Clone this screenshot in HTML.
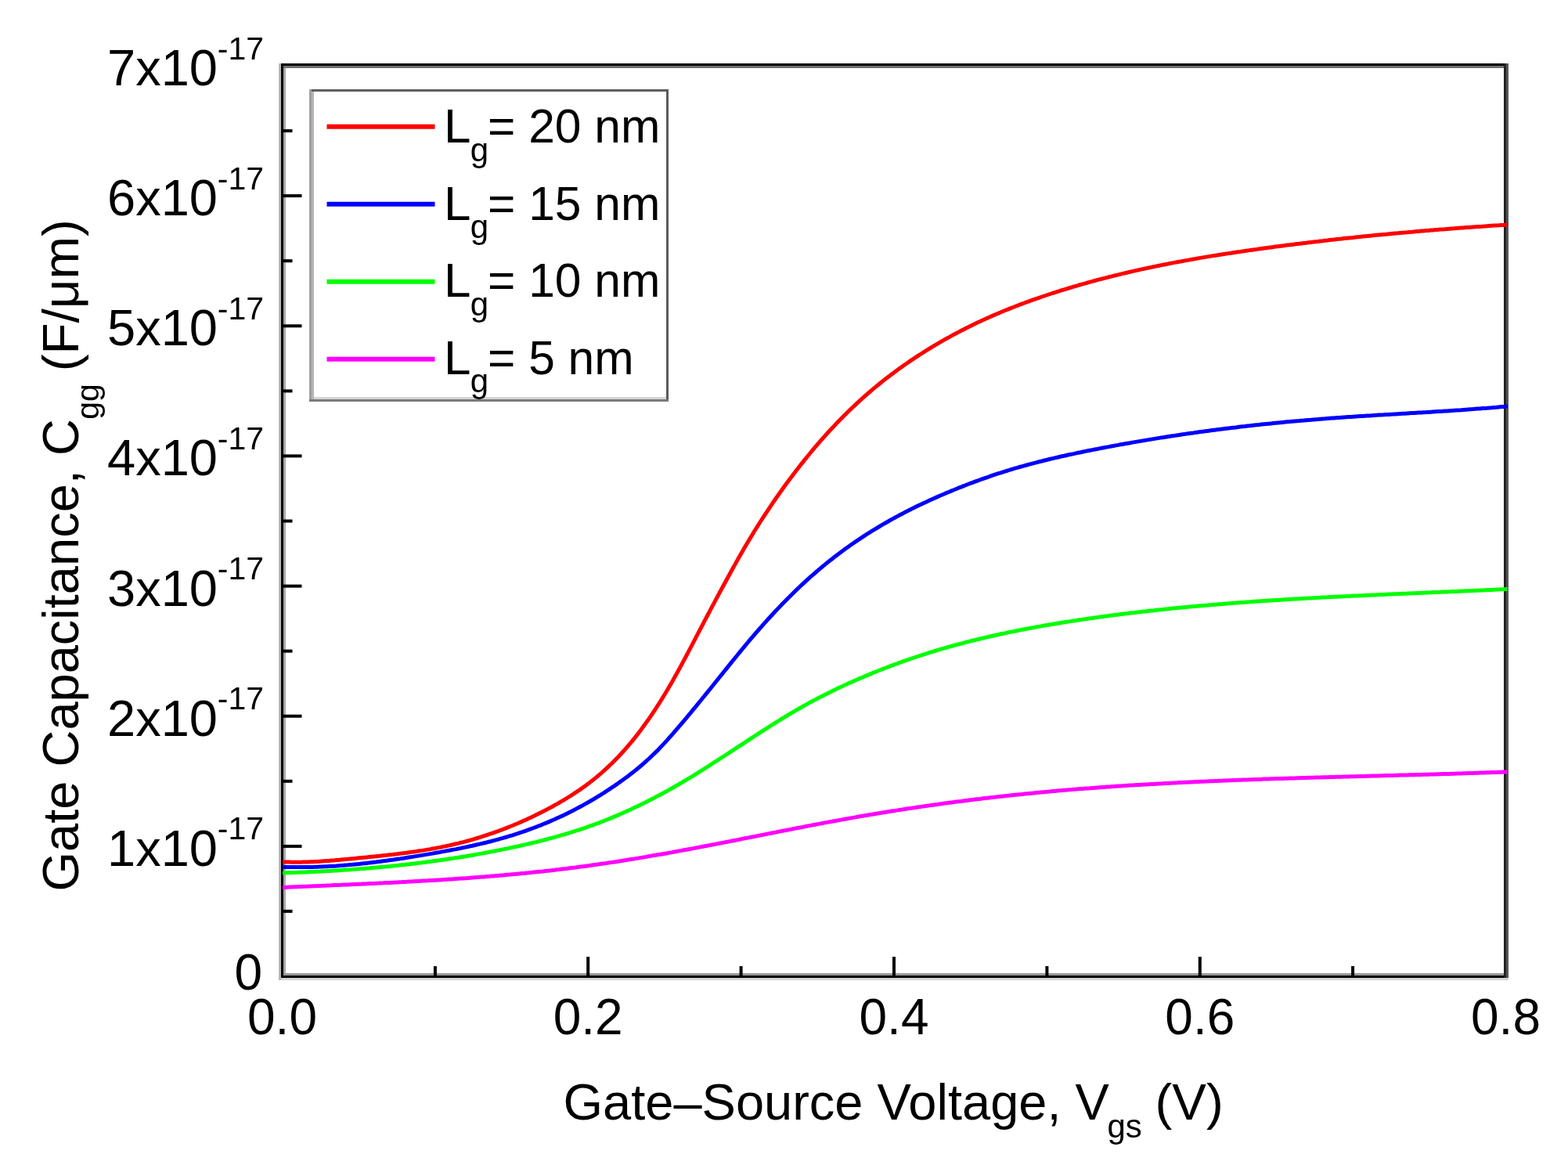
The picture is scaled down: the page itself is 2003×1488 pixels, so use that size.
<!DOCTYPE html>
<html><head><meta charset="utf-8"><title>Gate Capacitance vs Gate-Source Voltage</title>
<style>
html,body{margin:0;padding:0;background:#fff;}
body{width:2003px;height:1488px;overflow:hidden;}
svg{display:block;}
text{font-family:'Liberation Sans', Arial, Helvetica, sans-serif;fill:#000;}
</style></head><body>
<svg width="2003" height="1488" viewBox="0 0 2003 1488">
<rect x="0" y="0" width="2003" height="1488" fill="#fff"/>

<g shape-rendering="crispEdges">
<rect x="356" y="81" width="1571" height="3" fill="#000"/>
<rect x="362" y="84" width="1559" height="3" fill="#707070"/>
<rect x="356" y="81" width="3" height="1171" fill="#b8b8b8"/>
<rect x="359" y="81" width="3" height="1168" fill="#000"/>
<rect x="362" y="87" width="3" height="1156" fill="#a8a8a8"/>
<rect x="362" y="1243" width="1559" height="3" fill="#999"/>
<rect x="359" y="1246" width="1568" height="3" fill="#000"/>
<rect x="359" y="1249" width="1568" height="3" fill="#d4d4d4"/>
<rect x="1921" y="81" width="3" height="1168" fill="#222"/>
<rect x="1924" y="81" width="3" height="1168" fill="#555"/>
</g>
<defs><clipPath id="pa"><rect x="361" y="85" width="1566" height="1161"/></clipPath></defs>
<g clip-path="url(#pa)" fill="none" stroke-width="5.0" stroke-linejoin="round" stroke-linecap="butt">
<path stroke="#ff0000" d="M360.5 1100.7 L363.5 1100.9 L366.5 1101.0 L369.5 1101.1 L372.5 1101.2 L375.5 1101.2 L378.5 1101.2 L381.5 1101.2 L384.5 1101.2 L387.5 1101.1 L390.5 1101.1 L393.5 1101.0 L396.5 1100.8 L399.5 1100.7 L402.5 1100.6 L405.5 1100.4 L408.5 1100.2 L411.5 1100.0 L414.5 1099.8 L417.5 1099.6 L420.5 1099.4 L423.5 1099.1 L426.5 1098.9 L429.5 1098.6 L432.5 1098.4 L435.5 1098.1 L438.5 1097.8 L441.5 1097.5 L444.5 1097.3 L447.5 1097.0 L450.5 1096.7 L453.5 1096.4 L456.5 1096.1 L459.5 1095.8 L462.5 1095.5 L465.5 1095.2 L468.5 1094.9 L471.5 1094.6 L474.5 1094.3 L477.5 1094.0 L480.5 1093.7 L483.5 1093.4 L486.5 1093.1 L489.5 1092.7 L492.5 1092.4 L495.5 1092.1 L498.5 1091.7 L501.5 1091.4 L504.5 1091.0 L507.5 1090.7 L510.5 1090.3 L513.5 1089.9 L516.5 1089.5 L519.5 1089.2 L522.5 1088.7 L525.5 1088.3 L528.5 1087.9 L531.5 1087.5 L534.5 1087.0 L537.5 1086.6 L540.5 1086.1 L543.5 1085.6 L546.5 1085.1 L549.5 1084.6 L552.5 1084.0 L555.5 1083.5 L558.5 1082.9 L561.5 1082.4 L564.5 1081.8 L567.5 1081.1 L570.5 1080.5 L573.5 1079.9 L576.5 1079.2 L579.5 1078.5 L582.5 1077.8 L585.5 1077.1 L588.5 1076.3 L591.5 1075.6 L594.5 1074.8 L597.5 1074.0 L600.5 1073.2 L603.5 1072.3 L606.5 1071.4 L609.5 1070.5 L612.5 1069.6 L615.5 1068.7 L618.5 1067.7 L621.5 1066.7 L624.5 1065.7 L627.5 1064.7 L630.5 1063.7 L633.5 1062.6 L636.5 1061.5 L639.5 1060.4 L642.5 1059.3 L645.5 1058.1 L648.5 1056.9 L651.5 1055.7 L654.5 1054.5 L657.5 1053.2 L660.5 1052.0 L663.5 1050.7 L666.5 1049.4 L669.5 1048.0 L672.5 1046.7 L675.5 1045.3 L678.5 1043.9 L681.5 1042.5 L684.5 1041.0 L687.5 1039.5 L690.5 1038.0 L693.5 1036.5 L696.5 1035.0 L699.5 1033.4 L702.5 1031.8 L705.5 1030.2 L708.5 1028.5 L711.5 1026.9 L714.5 1025.2 L717.5 1023.4 L720.5 1021.7 L723.5 1019.9 L726.5 1018.0 L729.5 1016.1 L732.5 1014.2 L735.5 1012.2 L738.5 1010.2 L741.5 1008.1 L744.5 1006.0 L747.5 1003.9 L750.5 1001.6 L753.5 999.4 L756.5 997.0 L759.5 994.6 L762.5 992.2 L765.5 989.6 L768.5 987.1 L771.5 984.4 L774.5 981.7 L777.5 978.9 L780.5 976.0 L783.5 973.1 L786.5 970.0 L789.5 966.9 L792.5 963.8 L795.5 960.5 L798.5 957.2 L801.5 953.7 L804.5 950.2 L807.5 946.6 L810.5 942.9 L813.5 939.1 L816.5 935.2 L819.5 931.2 L822.5 927.1 L825.5 922.9 L828.5 918.7 L831.5 914.3 L834.5 909.9 L837.5 905.3 L840.5 900.7 L843.5 896.0 L846.5 891.1 L849.5 886.2 L852.5 881.2 L855.5 876.1 L858.5 870.9 L861.5 865.6 L864.5 860.2 L867.5 854.7 L870.5 849.2 L873.5 843.6 L876.5 838.0 L879.5 832.3 L882.5 826.6 L885.5 820.9 L888.5 815.2 L891.5 809.4 L894.5 803.7 L897.5 798.0 L900.5 792.2 L903.5 786.5 L906.5 780.9 L909.5 775.2 L912.5 769.6 L915.5 763.9 L918.5 758.4 L921.5 752.8 L924.5 747.2 L927.5 741.7 L930.5 736.2 L933.5 730.7 L936.5 725.3 L939.5 719.9 L942.5 714.5 L945.5 709.2 L948.5 704.0 L951.5 698.8 L954.5 693.7 L957.5 688.7 L960.5 683.7 L963.5 678.8 L966.5 674.0 L969.5 669.2 L972.5 664.5 L975.5 659.9 L978.5 655.3 L981.5 650.8 L984.5 646.3 L987.5 641.9 L990.5 637.5 L993.5 633.2 L996.5 629.0 L999.5 624.7 L1002.5 620.6 L1005.5 616.5 L1008.5 612.4 L1011.5 608.4 L1014.5 604.5 L1017.5 600.6 L1020.5 596.7 L1023.5 592.9 L1026.5 589.1 L1029.5 585.4 L1032.5 581.7 L1035.5 578.0 L1038.5 574.4 L1041.5 570.9 L1044.5 567.4 L1047.5 563.9 L1050.5 560.5 L1053.5 557.1 L1056.5 553.8 L1059.5 550.5 L1062.5 547.3 L1065.5 544.1 L1068.5 540.9 L1071.5 537.8 L1074.5 534.7 L1077.5 531.7 L1080.5 528.7 L1083.5 525.8 L1086.5 522.9 L1089.5 520.0 L1092.5 517.2 L1095.5 514.4 L1098.5 511.6 L1101.5 508.9 L1104.5 506.2 L1107.5 503.6 L1110.5 501.0 L1113.5 498.4 L1116.5 495.9 L1119.5 493.4 L1122.5 491.0 L1125.5 488.5 L1128.5 486.1 L1131.5 483.8 L1134.5 481.5 L1137.5 479.2 L1140.5 476.9 L1143.5 474.7 L1146.5 472.5 L1149.5 470.3 L1152.5 468.2 L1155.5 466.0 L1158.5 464.0 L1161.5 461.9 L1164.5 459.9 L1167.5 457.9 L1170.5 455.9 L1173.5 453.9 L1176.5 452.0 L1179.5 450.1 L1182.5 448.2 L1185.5 446.3 L1188.5 444.5 L1191.5 442.7 L1194.5 440.9 L1197.5 439.1 L1200.5 437.3 L1203.5 435.6 L1206.5 433.9 L1209.5 432.2 L1212.5 430.6 L1215.5 428.9 L1218.5 427.3 L1221.5 425.7 L1224.5 424.1 L1227.5 422.5 L1230.5 421.0 L1233.5 419.5 L1236.5 418.0 L1239.5 416.5 L1242.5 415.0 L1245.5 413.6 L1248.5 412.1 L1251.5 410.7 L1254.5 409.3 L1257.5 408.0 L1260.5 406.6 L1263.5 405.3 L1266.5 403.9 L1269.5 402.6 L1272.5 401.3 L1275.5 400.1 L1278.5 398.8 L1281.5 397.5 L1284.5 396.3 L1287.5 395.1 L1290.5 393.9 L1293.5 392.7 L1296.5 391.5 L1299.5 390.4 L1302.5 389.2 L1305.5 388.1 L1308.5 387.0 L1311.5 385.9 L1314.5 384.8 L1317.5 383.7 L1320.5 382.6 L1323.5 381.6 L1326.5 380.6 L1329.5 379.5 L1332.5 378.5 L1335.5 377.5 L1338.5 376.5 L1341.5 375.5 L1344.5 374.5 L1347.5 373.6 L1350.5 372.6 L1353.5 371.7 L1356.5 370.7 L1359.5 369.8 L1362.5 368.9 L1365.5 368.0 L1368.5 367.1 L1371.5 366.2 L1374.5 365.3 L1377.5 364.4 L1380.5 363.5 L1383.5 362.7 L1386.5 361.8 L1389.5 361.0 L1392.5 360.2 L1395.5 359.4 L1398.5 358.5 L1401.5 357.7 L1404.5 356.9 L1407.5 356.2 L1410.5 355.4 L1413.5 354.6 L1416.5 353.8 L1419.5 353.1 L1422.5 352.3 L1425.5 351.6 L1428.5 350.9 L1431.5 350.1 L1434.5 349.4 L1437.5 348.7 L1440.5 348.0 L1443.5 347.3 L1446.5 346.6 L1449.5 345.9 L1452.5 345.3 L1455.5 344.6 L1458.5 343.9 L1461.5 343.3 L1464.5 342.6 L1467.5 342.0 L1470.5 341.4 L1473.5 340.7 L1476.5 340.1 L1479.5 339.5 L1482.5 338.9 L1485.5 338.3 L1488.5 337.7 L1491.5 337.1 L1494.5 336.5 L1497.5 335.9 L1500.5 335.4 L1503.5 334.8 L1506.5 334.2 L1509.5 333.7 L1512.5 333.1 L1515.5 332.6 L1518.5 332.1 L1521.5 331.5 L1524.5 331.0 L1527.5 330.5 L1530.5 329.9 L1533.5 329.4 L1536.5 328.9 L1539.5 328.4 L1542.5 327.9 L1545.5 327.4 L1548.5 326.9 L1551.5 326.4 L1554.5 326.0 L1557.5 325.5 L1560.5 325.0 L1563.5 324.5 L1566.5 324.1 L1569.5 323.6 L1572.5 323.2 L1575.5 322.7 L1578.5 322.3 L1581.5 321.8 L1584.5 321.4 L1587.5 320.9 L1590.5 320.5 L1593.5 320.1 L1596.5 319.6 L1599.5 319.2 L1602.5 318.8 L1605.5 318.4 L1608.5 317.9 L1611.5 317.5 L1614.5 317.1 L1617.5 316.7 L1620.5 316.3 L1623.5 315.9 L1626.5 315.5 L1629.5 315.1 L1632.5 314.7 L1635.5 314.3 L1638.5 313.9 L1641.5 313.5 L1644.5 313.1 L1647.5 312.8 L1650.5 312.4 L1653.5 312.0 L1656.5 311.6 L1659.5 311.3 L1662.5 310.9 L1665.5 310.5 L1668.5 310.2 L1671.5 309.8 L1674.5 309.4 L1677.5 309.1 L1680.5 308.7 L1683.5 308.4 L1686.5 308.0 L1689.5 307.7 L1692.5 307.3 L1695.5 307.0 L1698.5 306.6 L1701.5 306.3 L1704.5 306.0 L1707.5 305.6 L1710.5 305.3 L1713.5 305.0 L1716.5 304.6 L1719.5 304.3 L1722.5 304.0 L1725.5 303.7 L1728.5 303.4 L1731.5 303.0 L1734.5 302.7 L1737.5 302.4 L1740.5 302.1 L1743.5 301.8 L1746.5 301.5 L1749.5 301.2 L1752.5 300.9 L1755.5 300.6 L1758.5 300.3 L1761.5 300.0 L1764.5 299.7 L1767.5 299.4 L1770.5 299.2 L1773.5 298.9 L1776.5 298.6 L1779.5 298.3 L1782.5 298.0 L1785.5 297.8 L1788.5 297.5 L1791.5 297.2 L1794.5 296.9 L1797.5 296.7 L1800.5 296.4 L1803.5 296.2 L1806.5 295.9 L1809.5 295.6 L1812.5 295.4 L1815.5 295.1 L1818.5 294.9 L1821.5 294.6 L1824.5 294.4 L1827.5 294.1 L1830.5 293.9 L1833.5 293.6 L1836.5 293.4 L1839.5 293.1 L1842.5 292.9 L1845.5 292.7 L1848.5 292.4 L1851.5 292.2 L1854.5 292.0 L1857.5 291.8 L1860.5 291.5 L1863.5 291.3 L1866.5 291.1 L1869.5 290.9 L1872.5 290.6 L1875.5 290.4 L1878.5 290.2 L1881.5 290.0 L1884.5 289.8 L1887.5 289.6 L1890.5 289.4 L1893.5 289.2 L1896.5 288.9 L1899.5 288.7 L1902.5 288.5 L1905.5 288.3 L1908.5 288.1 L1911.5 287.9 L1914.5 287.8 L1917.5 287.6 L1920.5 287.4 L1923.5 287.2 L1926.0 287.0"/>
<path stroke="#0000ff" d="M360.5 1107.3 L363.5 1107.4 L366.5 1107.4 L369.5 1107.5 L372.5 1107.6 L375.5 1107.6 L378.5 1107.6 L381.5 1107.6 L384.5 1107.6 L387.5 1107.6 L390.5 1107.6 L393.5 1107.5 L396.5 1107.5 L399.5 1107.4 L402.5 1107.3 L405.5 1107.2 L408.5 1107.1 L411.5 1107.0 L414.5 1106.8 L417.5 1106.7 L420.5 1106.5 L423.5 1106.3 L426.5 1106.2 L429.5 1106.0 L432.5 1105.7 L435.5 1105.5 L438.5 1105.3 L441.5 1105.0 L444.5 1104.8 L447.5 1104.5 L450.5 1104.3 L453.5 1104.0 L456.5 1103.7 L459.5 1103.4 L462.5 1103.1 L465.5 1102.7 L468.5 1102.4 L471.5 1102.1 L474.5 1101.7 L477.5 1101.3 L480.5 1101.0 L483.5 1100.6 L486.5 1100.2 L489.5 1099.8 L492.5 1099.4 L495.5 1099.0 L498.5 1098.6 L501.5 1098.2 L504.5 1097.7 L507.5 1097.3 L510.5 1096.9 L513.5 1096.4 L516.5 1096.0 L519.5 1095.5 L522.5 1095.0 L525.5 1094.6 L528.5 1094.1 L531.5 1093.6 L534.5 1093.1 L537.5 1092.6 L540.5 1092.1 L543.5 1091.6 L546.5 1091.1 L549.5 1090.6 L552.5 1090.1 L555.5 1089.5 L558.5 1089.0 L561.5 1088.5 L564.5 1087.9 L567.5 1087.4 L570.5 1086.8 L573.5 1086.3 L576.5 1085.7 L579.5 1085.1 L582.5 1084.6 L585.5 1084.0 L588.5 1083.4 L591.5 1082.7 L594.5 1082.1 L597.5 1081.5 L600.5 1080.8 L603.5 1080.2 L606.5 1079.5 L609.5 1078.8 L612.5 1078.1 L615.5 1077.4 L618.5 1076.7 L621.5 1076.0 L624.5 1075.2 L627.5 1074.5 L630.5 1073.7 L633.5 1072.9 L636.5 1072.1 L639.5 1071.2 L642.5 1070.4 L645.5 1069.5 L648.5 1068.6 L651.5 1067.7 L654.5 1066.8 L657.5 1065.8 L660.5 1064.9 L663.5 1063.9 L666.5 1062.9 L669.5 1061.9 L672.5 1060.8 L675.5 1059.7 L678.5 1058.6 L681.5 1057.5 L684.5 1056.4 L687.5 1055.2 L690.5 1054.1 L693.5 1052.8 L696.5 1051.6 L699.5 1050.4 L702.5 1049.1 L705.5 1047.8 L708.5 1046.5 L711.5 1045.1 L714.5 1043.7 L717.5 1042.4 L720.5 1040.9 L723.5 1039.5 L726.5 1038.0 L729.5 1036.5 L732.5 1035.0 L735.5 1033.4 L738.5 1031.8 L741.5 1030.2 L744.5 1028.6 L747.5 1026.9 L750.5 1025.2 L753.5 1023.5 L756.5 1021.8 L759.5 1020.0 L762.5 1018.2 L765.5 1016.3 L768.5 1014.5 L771.5 1012.6 L774.5 1010.6 L777.5 1008.7 L780.5 1006.7 L783.5 1004.7 L786.5 1002.6 L789.5 1000.5 L792.5 998.4 L795.5 996.3 L798.5 994.1 L801.5 991.9 L804.5 989.6 L807.5 987.3 L810.5 984.9 L813.5 982.5 L816.5 980.0 L819.5 977.5 L822.5 974.9 L825.5 972.2 L828.5 969.5 L831.5 966.7 L834.5 963.8 L837.5 960.9 L840.5 957.9 L843.5 954.8 L846.5 951.6 L849.5 948.4 L852.5 945.1 L855.5 941.7 L858.5 938.3 L861.5 934.9 L864.5 931.4 L867.5 927.9 L870.5 924.4 L873.5 920.8 L876.5 917.3 L879.5 913.7 L882.5 910.1 L885.5 906.4 L888.5 902.8 L891.5 899.1 L894.5 895.5 L897.5 891.8 L900.5 888.1 L903.5 884.4 L906.5 880.7 L909.5 877.0 L912.5 873.3 L915.5 869.5 L918.5 865.8 L921.5 862.1 L924.5 858.3 L927.5 854.6 L930.5 850.9 L933.5 847.1 L936.5 843.4 L939.5 839.7 L942.5 836.0 L945.5 832.4 L948.5 828.7 L951.5 825.1 L954.5 821.5 L957.5 817.9 L960.5 814.4 L963.5 810.9 L966.5 807.4 L969.5 804.0 L972.5 800.6 L975.5 797.2 L978.5 793.8 L981.5 790.5 L984.5 787.2 L987.5 784.0 L990.5 780.8 L993.5 777.6 L996.5 774.5 L999.5 771.3 L1002.5 768.3 L1005.5 765.2 L1008.5 762.2 L1011.5 759.2 L1014.5 756.3 L1017.5 753.4 L1020.5 750.5 L1023.5 747.7 L1026.5 744.9 L1029.5 742.1 L1032.5 739.4 L1035.5 736.7 L1038.5 734.1 L1041.5 731.5 L1044.5 728.9 L1047.5 726.4 L1050.5 723.8 L1053.5 721.4 L1056.5 718.9 L1059.5 716.5 L1062.5 714.2 L1065.5 711.8 L1068.5 709.5 L1071.5 707.2 L1074.5 705.0 L1077.5 702.8 L1080.5 700.6 L1083.5 698.4 L1086.5 696.3 L1089.5 694.2 L1092.5 692.1 L1095.5 690.1 L1098.5 688.1 L1101.5 686.1 L1104.5 684.1 L1107.5 682.2 L1110.5 680.3 L1113.5 678.4 L1116.5 676.6 L1119.5 674.8 L1122.5 673.0 L1125.5 671.2 L1128.5 669.4 L1131.5 667.7 L1134.5 666.0 L1137.5 664.3 L1140.5 662.6 L1143.5 661.0 L1146.5 659.4 L1149.5 657.8 L1152.5 656.2 L1155.5 654.6 L1158.5 653.1 L1161.5 651.5 L1164.5 650.0 L1167.5 648.6 L1170.5 647.1 L1173.5 645.6 L1176.5 644.2 L1179.5 642.8 L1182.5 641.4 L1185.5 640.0 L1188.5 638.6 L1191.5 637.3 L1194.5 635.9 L1197.5 634.6 L1200.5 633.3 L1203.5 632.0 L1206.5 630.7 L1209.5 629.4 L1212.5 628.2 L1215.5 626.9 L1218.5 625.7 L1221.5 624.5 L1224.5 623.2 L1227.5 622.1 L1230.5 620.9 L1233.5 619.7 L1236.5 618.5 L1239.5 617.4 L1242.5 616.3 L1245.5 615.2 L1248.5 614.1 L1251.5 613.0 L1254.5 611.9 L1257.5 610.8 L1260.5 609.8 L1263.5 608.8 L1266.5 607.7 L1269.5 606.7 L1272.5 605.7 L1275.5 604.7 L1278.5 603.8 L1281.5 602.8 L1284.5 601.9 L1287.5 601.0 L1290.5 600.0 L1293.5 599.1 L1296.5 598.2 L1299.5 597.4 L1302.5 596.5 L1305.5 595.7 L1308.5 594.8 L1311.5 594.0 L1314.5 593.2 L1317.5 592.4 L1320.5 591.6 L1323.5 590.8 L1326.5 590.0 L1329.5 589.3 L1332.5 588.5 L1335.5 587.8 L1338.5 587.0 L1341.5 586.3 L1344.5 585.6 L1347.5 584.9 L1350.5 584.2 L1353.5 583.5 L1356.5 582.8 L1359.5 582.2 L1362.5 581.5 L1365.5 580.8 L1368.5 580.2 L1371.5 579.6 L1374.5 578.9 L1377.5 578.3 L1380.5 577.7 L1383.5 577.0 L1386.5 576.4 L1389.5 575.8 L1392.5 575.2 L1395.5 574.6 L1398.5 574.0 L1401.5 573.5 L1404.5 572.9 L1407.5 572.3 L1410.5 571.7 L1413.5 571.1 L1416.5 570.6 L1419.5 570.0 L1422.5 569.5 L1425.5 568.9 L1428.5 568.4 L1431.5 567.8 L1434.5 567.3 L1437.5 566.7 L1440.5 566.2 L1443.5 565.7 L1446.5 565.1 L1449.5 564.6 L1452.5 564.1 L1455.5 563.6 L1458.5 563.1 L1461.5 562.6 L1464.5 562.1 L1467.5 561.6 L1470.5 561.1 L1473.5 560.6 L1476.5 560.1 L1479.5 559.6 L1482.5 559.1 L1485.5 558.7 L1488.5 558.2 L1491.5 557.7 L1494.5 557.3 L1497.5 556.8 L1500.5 556.4 L1503.5 555.9 L1506.5 555.5 L1509.5 555.0 L1512.5 554.6 L1515.5 554.1 L1518.5 553.7 L1521.5 553.3 L1524.5 552.9 L1527.5 552.4 L1530.5 552.0 L1533.5 551.6 L1536.5 551.2 L1539.5 550.8 L1542.5 550.4 L1545.5 550.0 L1548.5 549.6 L1551.5 549.2 L1554.5 548.8 L1557.5 548.4 L1560.5 548.1 L1563.5 547.7 L1566.5 547.3 L1569.5 546.9 L1572.5 546.6 L1575.5 546.2 L1578.5 545.9 L1581.5 545.5 L1584.5 545.1 L1587.5 544.8 L1590.5 544.5 L1593.5 544.1 L1596.5 543.8 L1599.5 543.4 L1602.5 543.1 L1605.5 542.8 L1608.5 542.5 L1611.5 542.1 L1614.5 541.8 L1617.5 541.5 L1620.5 541.2 L1623.5 540.9 L1626.5 540.6 L1629.5 540.3 L1632.5 540.0 L1635.5 539.7 L1638.5 539.4 L1641.5 539.1 L1644.5 538.8 L1647.5 538.6 L1650.5 538.3 L1653.5 538.0 L1656.5 537.7 L1659.5 537.5 L1662.5 537.2 L1665.5 537.0 L1668.5 536.7 L1671.5 536.4 L1674.5 536.2 L1677.5 535.9 L1680.5 535.7 L1683.5 535.5 L1686.5 535.2 L1689.5 535.0 L1692.5 534.8 L1695.5 534.5 L1698.5 534.3 L1701.5 534.1 L1704.5 533.9 L1707.5 533.6 L1710.5 533.4 L1713.5 533.2 L1716.5 533.0 L1719.5 532.8 L1722.5 532.6 L1725.5 532.4 L1728.5 532.2 L1731.5 532.0 L1734.5 531.8 L1737.5 531.6 L1740.5 531.4 L1743.5 531.2 L1746.5 531.0 L1749.5 530.9 L1752.5 530.7 L1755.5 530.5 L1758.5 530.3 L1761.5 530.1 L1764.5 529.9 L1767.5 529.8 L1770.5 529.6 L1773.5 529.4 L1776.5 529.2 L1779.5 529.1 L1782.5 528.9 L1785.5 528.7 L1788.5 528.5 L1791.5 528.3 L1794.5 528.2 L1797.5 528.0 L1800.5 527.8 L1803.5 527.6 L1806.5 527.5 L1809.5 527.3 L1812.5 527.1 L1815.5 526.9 L1818.5 526.7 L1821.5 526.6 L1824.5 526.4 L1827.5 526.2 L1830.5 526.0 L1833.5 525.8 L1836.5 525.6 L1839.5 525.4 L1842.5 525.3 L1845.5 525.1 L1848.5 524.9 L1851.5 524.7 L1854.5 524.5 L1857.5 524.3 L1860.5 524.1 L1863.5 523.9 L1866.5 523.7 L1869.5 523.4 L1872.5 523.2 L1875.5 523.0 L1878.5 522.8 L1881.5 522.6 L1884.5 522.3 L1887.5 522.1 L1890.5 521.9 L1893.5 521.6 L1896.5 521.4 L1899.5 521.2 L1902.5 520.9 L1905.5 520.7 L1908.5 520.4 L1911.5 520.2 L1914.5 519.9 L1917.5 519.6 L1920.5 519.4 L1923.5 519.1 L1926.0 518.9"/>
<path stroke="#00ff00" d="M360.5 1114.9 L363.5 1114.8 L366.5 1114.7 L369.5 1114.6 L372.5 1114.5 L375.5 1114.4 L378.5 1114.3 L381.5 1114.2 L384.5 1114.1 L387.5 1114.0 L390.5 1113.9 L393.5 1113.7 L396.5 1113.6 L399.5 1113.5 L402.5 1113.3 L405.5 1113.2 L408.5 1113.1 L411.5 1112.9 L414.5 1112.7 L417.5 1112.6 L420.5 1112.4 L423.5 1112.2 L426.5 1112.1 L429.5 1111.9 L432.5 1111.7 L435.5 1111.5 L438.5 1111.3 L441.5 1111.1 L444.5 1110.9 L447.5 1110.7 L450.5 1110.5 L453.5 1110.3 L456.5 1110.1 L459.5 1109.8 L462.5 1109.6 L465.5 1109.4 L468.5 1109.1 L471.5 1108.9 L474.5 1108.6 L477.5 1108.3 L480.5 1108.1 L483.5 1107.8 L486.5 1107.5 L489.5 1107.2 L492.5 1107.0 L495.5 1106.7 L498.5 1106.4 L501.5 1106.1 L504.5 1105.8 L507.5 1105.4 L510.5 1105.1 L513.5 1104.8 L516.5 1104.5 L519.5 1104.1 L522.5 1103.8 L525.5 1103.4 L528.5 1103.1 L531.5 1102.7 L534.5 1102.3 L537.5 1102.0 L540.5 1101.6 L543.5 1101.2 L546.5 1100.8 L549.5 1100.4 L552.5 1100.0 L555.5 1099.6 L558.5 1099.2 L561.5 1098.8 L564.5 1098.3 L567.5 1097.9 L570.5 1097.5 L573.5 1097.0 L576.5 1096.6 L579.5 1096.1 L582.5 1095.6 L585.5 1095.2 L588.5 1094.7 L591.5 1094.2 L594.5 1093.7 L597.5 1093.2 L600.5 1092.7 L603.5 1092.2 L606.5 1091.7 L609.5 1091.1 L612.5 1090.6 L615.5 1090.1 L618.5 1089.5 L621.5 1089.0 L624.5 1088.4 L627.5 1087.8 L630.5 1087.3 L633.5 1086.7 L636.5 1086.1 L639.5 1085.5 L642.5 1084.9 L645.5 1084.3 L648.5 1083.7 L651.5 1083.0 L654.5 1082.4 L657.5 1081.8 L660.5 1081.1 L663.5 1080.5 L666.5 1079.8 L669.5 1079.1 L672.5 1078.4 L675.5 1077.7 L678.5 1077.0 L681.5 1076.3 L684.5 1075.6 L687.5 1074.8 L690.5 1074.1 L693.5 1073.3 L696.5 1072.5 L699.5 1071.7 L702.5 1070.9 L705.5 1070.1 L708.5 1069.3 L711.5 1068.4 L714.5 1067.6 L717.5 1066.7 L720.5 1065.9 L723.5 1065.0 L726.5 1064.1 L729.5 1063.1 L732.5 1062.2 L735.5 1061.2 L738.5 1060.3 L741.5 1059.3 L744.5 1058.3 L747.5 1057.3 L750.5 1056.2 L753.5 1055.2 L756.5 1054.1 L759.5 1053.0 L762.5 1051.9 L765.5 1050.8 L768.5 1049.6 L771.5 1048.5 L774.5 1047.3 L777.5 1046.1 L780.5 1044.9 L783.5 1043.6 L786.5 1042.4 L789.5 1041.1 L792.5 1039.8 L795.5 1038.5 L798.5 1037.1 L801.5 1035.8 L804.5 1034.4 L807.5 1033.0 L810.5 1031.6 L813.5 1030.2 L816.5 1028.7 L819.5 1027.3 L822.5 1025.8 L825.5 1024.3 L828.5 1022.8 L831.5 1021.3 L834.5 1019.7 L837.5 1018.1 L840.5 1016.6 L843.5 1015.0 L846.5 1013.3 L849.5 1011.7 L852.5 1010.1 L855.5 1008.4 L858.5 1006.7 L861.5 1005.0 L864.5 1003.3 L867.5 1001.5 L870.5 999.8 L873.5 998.0 L876.5 996.2 L879.5 994.4 L882.5 992.6 L885.5 990.8 L888.5 988.9 L891.5 987.1 L894.5 985.2 L897.5 983.3 L900.5 981.4 L903.5 979.5 L906.5 977.6 L909.5 975.7 L912.5 973.7 L915.5 971.8 L918.5 969.9 L921.5 967.9 L924.5 966.0 L927.5 964.0 L930.5 962.1 L933.5 960.1 L936.5 958.1 L939.5 956.2 L942.5 954.2 L945.5 952.2 L948.5 950.3 L951.5 948.3 L954.5 946.4 L957.5 944.4 L960.5 942.4 L963.5 940.5 L966.5 938.5 L969.5 936.6 L972.5 934.7 L975.5 932.7 L978.5 930.8 L981.5 928.9 L984.5 927.0 L987.5 925.1 L990.5 923.2 L993.5 921.4 L996.5 919.5 L999.5 917.7 L1002.5 915.8 L1005.5 914.0 L1008.5 912.2 L1011.5 910.4 L1014.5 908.7 L1017.5 906.9 L1020.5 905.2 L1023.5 903.5 L1026.5 901.8 L1029.5 900.1 L1032.5 898.4 L1035.5 896.8 L1038.5 895.2 L1041.5 893.6 L1044.5 892.0 L1047.5 890.4 L1050.5 888.9 L1053.5 887.4 L1056.5 885.9 L1059.5 884.4 L1062.5 882.9 L1065.5 881.5 L1068.5 880.0 L1071.5 878.6 L1074.5 877.2 L1077.5 875.8 L1080.5 874.4 L1083.5 873.0 L1086.5 871.7 L1089.5 870.4 L1092.5 869.0 L1095.5 867.7 L1098.5 866.4 L1101.5 865.2 L1104.5 863.9 L1107.5 862.6 L1110.5 861.4 L1113.5 860.1 L1116.5 858.9 L1119.5 857.7 L1122.5 856.5 L1125.5 855.3 L1128.5 854.2 L1131.5 853.0 L1134.5 851.9 L1137.5 850.7 L1140.5 849.6 L1143.5 848.5 L1146.5 847.4 L1149.5 846.3 L1152.5 845.2 L1155.5 844.2 L1158.5 843.1 L1161.5 842.1 L1164.5 841.0 L1167.5 840.0 L1170.5 839.0 L1173.5 838.0 L1176.5 837.0 L1179.5 836.1 L1182.5 835.1 L1185.5 834.2 L1188.5 833.2 L1191.5 832.3 L1194.5 831.4 L1197.5 830.5 L1200.5 829.6 L1203.5 828.7 L1206.5 827.9 L1209.5 827.0 L1212.5 826.2 L1215.5 825.3 L1218.5 824.5 L1221.5 823.7 L1224.5 822.9 L1227.5 822.1 L1230.5 821.3 L1233.5 820.5 L1236.5 819.7 L1239.5 818.9 L1242.5 818.2 L1245.5 817.5 L1248.5 816.7 L1251.5 816.0 L1254.5 815.3 L1257.5 814.6 L1260.5 813.9 L1263.5 813.2 L1266.5 812.5 L1269.5 811.8 L1272.5 811.1 L1275.5 810.5 L1278.5 809.8 L1281.5 809.2 L1284.5 808.6 L1287.5 807.9 L1290.5 807.3 L1293.5 806.7 L1296.5 806.1 L1299.5 805.5 L1302.5 804.9 L1305.5 804.3 L1308.5 803.7 L1311.5 803.2 L1314.5 802.6 L1317.5 802.0 L1320.5 801.5 L1323.5 800.9 L1326.5 800.4 L1329.5 799.9 L1332.5 799.3 L1335.5 798.8 L1338.5 798.3 L1341.5 797.8 L1344.5 797.3 L1347.5 796.8 L1350.5 796.3 L1353.5 795.8 L1356.5 795.3 L1359.5 794.8 L1362.5 794.3 L1365.5 793.9 L1368.5 793.4 L1371.5 792.9 L1374.5 792.5 L1377.5 792.0 L1380.5 791.6 L1383.5 791.1 L1386.5 790.7 L1389.5 790.3 L1392.5 789.8 L1395.5 789.4 L1398.5 789.0 L1401.5 788.6 L1404.5 788.1 L1407.5 787.7 L1410.5 787.3 L1413.5 786.9 L1416.5 786.5 L1419.5 786.1 L1422.5 785.7 L1425.5 785.3 L1428.5 785.0 L1431.5 784.6 L1434.5 784.2 L1437.5 783.8 L1440.5 783.5 L1443.5 783.1 L1446.5 782.7 L1449.5 782.4 L1452.5 782.0 L1455.5 781.7 L1458.5 781.3 L1461.5 781.0 L1464.5 780.7 L1467.5 780.3 L1470.5 780.0 L1473.5 779.7 L1476.5 779.3 L1479.5 779.0 L1482.5 778.7 L1485.5 778.4 L1488.5 778.1 L1491.5 777.8 L1494.5 777.4 L1497.5 777.1 L1500.5 776.8 L1503.5 776.5 L1506.5 776.3 L1509.5 776.0 L1512.5 775.7 L1515.5 775.4 L1518.5 775.1 L1521.5 774.8 L1524.5 774.6 L1527.5 774.3 L1530.5 774.0 L1533.5 773.7 L1536.5 773.5 L1539.5 773.2 L1542.5 773.0 L1545.5 772.7 L1548.5 772.5 L1551.5 772.2 L1554.5 772.0 L1557.5 771.7 L1560.5 771.5 L1563.5 771.2 L1566.5 771.0 L1569.5 770.8 L1572.5 770.5 L1575.5 770.3 L1578.5 770.1 L1581.5 769.8 L1584.5 769.6 L1587.5 769.4 L1590.5 769.2 L1593.5 769.0 L1596.5 768.8 L1599.5 768.5 L1602.5 768.3 L1605.5 768.1 L1608.5 767.9 L1611.5 767.7 L1614.5 767.5 L1617.5 767.3 L1620.5 767.1 L1623.5 766.9 L1626.5 766.7 L1629.5 766.5 L1632.5 766.4 L1635.5 766.2 L1638.5 766.0 L1641.5 765.8 L1644.5 765.6 L1647.5 765.4 L1650.5 765.3 L1653.5 765.1 L1656.5 764.9 L1659.5 764.7 L1662.5 764.6 L1665.5 764.4 L1668.5 764.2 L1671.5 764.1 L1674.5 763.9 L1677.5 763.7 L1680.5 763.6 L1683.5 763.4 L1686.5 763.3 L1689.5 763.1 L1692.5 762.9 L1695.5 762.8 L1698.5 762.6 L1701.5 762.5 L1704.5 762.3 L1707.5 762.2 L1710.5 762.0 L1713.5 761.9 L1716.5 761.7 L1719.5 761.6 L1722.5 761.4 L1725.5 761.3 L1728.5 761.1 L1731.5 761.0 L1734.5 760.9 L1737.5 760.7 L1740.5 760.6 L1743.5 760.4 L1746.5 760.3 L1749.5 760.2 L1752.5 760.0 L1755.5 759.9 L1758.5 759.8 L1761.5 759.6 L1764.5 759.5 L1767.5 759.4 L1770.5 759.2 L1773.5 759.1 L1776.5 759.0 L1779.5 758.8 L1782.5 758.7 L1785.5 758.6 L1788.5 758.4 L1791.5 758.3 L1794.5 758.2 L1797.5 758.1 L1800.5 757.9 L1803.5 757.8 L1806.5 757.7 L1809.5 757.5 L1812.5 757.4 L1815.5 757.3 L1818.5 757.2 L1821.5 757.0 L1824.5 756.9 L1827.5 756.8 L1830.5 756.6 L1833.5 756.5 L1836.5 756.4 L1839.5 756.3 L1842.5 756.1 L1845.5 756.0 L1848.5 755.9 L1851.5 755.7 L1854.5 755.6 L1857.5 755.5 L1860.5 755.4 L1863.5 755.2 L1866.5 755.1 L1869.5 755.0 L1872.5 754.8 L1875.5 754.7 L1878.5 754.6 L1881.5 754.4 L1884.5 754.3 L1887.5 754.2 L1890.5 754.0 L1893.5 753.9 L1896.5 753.8 L1899.5 753.6 L1902.5 753.5 L1905.5 753.4 L1908.5 753.2 L1911.5 753.1 L1914.5 752.9 L1917.5 752.8 L1920.5 752.7 L1923.5 752.5 L1926.0 752.4"/>
<path stroke="#ff00ff" d="M360.5 1133.5 L363.5 1133.4 L366.5 1133.2 L369.5 1133.1 L372.5 1133.0 L375.5 1132.8 L378.5 1132.7 L381.5 1132.6 L384.5 1132.5 L387.5 1132.3 L390.5 1132.2 L393.5 1132.1 L396.5 1131.9 L399.5 1131.8 L402.5 1131.7 L405.5 1131.5 L408.5 1131.4 L411.5 1131.3 L414.5 1131.2 L417.5 1131.0 L420.5 1130.9 L423.5 1130.8 L426.5 1130.6 L429.5 1130.5 L432.5 1130.4 L435.5 1130.3 L438.5 1130.1 L441.5 1130.0 L444.5 1129.9 L447.5 1129.7 L450.5 1129.6 L453.5 1129.5 L456.5 1129.3 L459.5 1129.2 L462.5 1129.1 L465.5 1128.9 L468.5 1128.8 L471.5 1128.6 L474.5 1128.5 L477.5 1128.4 L480.5 1128.2 L483.5 1128.1 L486.5 1127.9 L489.5 1127.8 L492.5 1127.6 L495.5 1127.5 L498.5 1127.4 L501.5 1127.2 L504.5 1127.1 L507.5 1126.9 L510.5 1126.7 L513.5 1126.6 L516.5 1126.4 L519.5 1126.3 L522.5 1126.1 L525.5 1126.0 L528.5 1125.8 L531.5 1125.6 L534.5 1125.5 L537.5 1125.3 L540.5 1125.1 L543.5 1124.9 L546.5 1124.8 L549.5 1124.6 L552.5 1124.4 L555.5 1124.2 L558.5 1124.0 L561.5 1123.9 L564.5 1123.7 L567.5 1123.5 L570.5 1123.3 L573.5 1123.1 L576.5 1122.9 L579.5 1122.7 L582.5 1122.5 L585.5 1122.3 L588.5 1122.1 L591.5 1121.9 L594.5 1121.7 L597.5 1121.5 L600.5 1121.2 L603.5 1121.0 L606.5 1120.8 L609.5 1120.6 L612.5 1120.3 L615.5 1120.1 L618.5 1119.9 L621.5 1119.6 L624.5 1119.4 L627.5 1119.1 L630.5 1118.9 L633.5 1118.6 L636.5 1118.4 L639.5 1118.1 L642.5 1117.9 L645.5 1117.6 L648.5 1117.3 L651.5 1117.1 L654.5 1116.8 L657.5 1116.5 L660.5 1116.2 L663.5 1115.9 L666.5 1115.6 L669.5 1115.4 L672.5 1115.1 L675.5 1114.8 L678.5 1114.4 L681.5 1114.1 L684.5 1113.8 L687.5 1113.5 L690.5 1113.2 L693.5 1112.9 L696.5 1112.5 L699.5 1112.2 L702.5 1111.9 L705.5 1111.5 L708.5 1111.2 L711.5 1110.8 L714.5 1110.5 L717.5 1110.1 L720.5 1109.7 L723.5 1109.4 L726.5 1109.0 L729.5 1108.6 L732.5 1108.2 L735.5 1107.9 L738.5 1107.5 L741.5 1107.1 L744.5 1106.7 L747.5 1106.3 L750.5 1105.9 L753.5 1105.5 L756.5 1105.0 L759.5 1104.6 L762.5 1104.2 L765.5 1103.8 L768.5 1103.3 L771.5 1102.9 L774.5 1102.5 L777.5 1102.0 L780.5 1101.6 L783.5 1101.1 L786.5 1100.7 L789.5 1100.2 L792.5 1099.7 L795.5 1099.3 L798.5 1098.8 L801.5 1098.3 L804.5 1097.8 L807.5 1097.3 L810.5 1096.9 L813.5 1096.4 L816.5 1095.9 L819.5 1095.4 L822.5 1094.9 L825.5 1094.4 L828.5 1093.8 L831.5 1093.3 L834.5 1092.8 L837.5 1092.3 L840.5 1091.8 L843.5 1091.3 L846.5 1090.7 L849.5 1090.2 L852.5 1089.7 L855.5 1089.1 L858.5 1088.6 L861.5 1088.0 L864.5 1087.5 L867.5 1086.9 L870.5 1086.4 L873.5 1085.8 L876.5 1085.3 L879.5 1084.7 L882.5 1084.2 L885.5 1083.6 L888.5 1083.0 L891.5 1082.5 L894.5 1081.9 L897.5 1081.3 L900.5 1080.8 L903.5 1080.2 L906.5 1079.6 L909.5 1079.0 L912.5 1078.5 L915.5 1077.9 L918.5 1077.3 L921.5 1076.7 L924.5 1076.1 L927.5 1075.5 L930.5 1075.0 L933.5 1074.4 L936.5 1073.8 L939.5 1073.2 L942.5 1072.6 L945.5 1072.0 L948.5 1071.4 L951.5 1070.8 L954.5 1070.2 L957.5 1069.6 L960.5 1069.0 L963.5 1068.5 L966.5 1067.9 L969.5 1067.3 L972.5 1066.7 L975.5 1066.1 L978.5 1065.5 L981.5 1064.9 L984.5 1064.3 L987.5 1063.7 L990.5 1063.1 L993.5 1062.5 L996.5 1061.9 L999.5 1061.3 L1002.5 1060.8 L1005.5 1060.2 L1008.5 1059.6 L1011.5 1059.0 L1014.5 1058.4 L1017.5 1057.8 L1020.5 1057.2 L1023.5 1056.7 L1026.5 1056.1 L1029.5 1055.5 L1032.5 1054.9 L1035.5 1054.4 L1038.5 1053.8 L1041.5 1053.2 L1044.5 1052.6 L1047.5 1052.1 L1050.5 1051.5 L1053.5 1050.9 L1056.5 1050.4 L1059.5 1049.8 L1062.5 1049.3 L1065.5 1048.7 L1068.5 1048.2 L1071.5 1047.6 L1074.5 1047.1 L1077.5 1046.5 L1080.5 1046.0 L1083.5 1045.5 L1086.5 1044.9 L1089.5 1044.4 L1092.5 1043.9 L1095.5 1043.3 L1098.5 1042.8 L1101.5 1042.3 L1104.5 1041.8 L1107.5 1041.3 L1110.5 1040.8 L1113.5 1040.3 L1116.5 1039.7 L1119.5 1039.2 L1122.5 1038.8 L1125.5 1038.3 L1128.5 1037.8 L1131.5 1037.3 L1134.5 1036.8 L1137.5 1036.3 L1140.5 1035.8 L1143.5 1035.4 L1146.5 1034.9 L1149.5 1034.4 L1152.5 1034.0 L1155.5 1033.5 L1158.5 1033.0 L1161.5 1032.6 L1164.5 1032.1 L1167.5 1031.7 L1170.5 1031.2 L1173.5 1030.8 L1176.5 1030.4 L1179.5 1029.9 L1182.5 1029.5 L1185.5 1029.1 L1188.5 1028.6 L1191.5 1028.2 L1194.5 1027.8 L1197.5 1027.4 L1200.5 1026.9 L1203.5 1026.5 L1206.5 1026.1 L1209.5 1025.7 L1212.5 1025.3 L1215.5 1024.9 L1218.5 1024.5 L1221.5 1024.1 L1224.5 1023.7 L1227.5 1023.4 L1230.5 1023.0 L1233.5 1022.6 L1236.5 1022.2 L1239.5 1021.8 L1242.5 1021.5 L1245.5 1021.1 L1248.5 1020.7 L1251.5 1020.4 L1254.5 1020.0 L1257.5 1019.6 L1260.5 1019.3 L1263.5 1018.9 L1266.5 1018.6 L1269.5 1018.3 L1272.5 1017.9 L1275.5 1017.6 L1278.5 1017.2 L1281.5 1016.9 L1284.5 1016.6 L1287.5 1016.3 L1290.5 1015.9 L1293.5 1015.6 L1296.5 1015.3 L1299.5 1015.0 L1302.5 1014.7 L1305.5 1014.4 L1308.5 1014.1 L1311.5 1013.8 L1314.5 1013.5 L1317.5 1013.2 L1320.5 1012.9 L1323.5 1012.6 L1326.5 1012.3 L1329.5 1012.0 L1332.5 1011.7 L1335.5 1011.4 L1338.5 1011.2 L1341.5 1010.9 L1344.5 1010.6 L1347.5 1010.4 L1350.5 1010.1 L1353.5 1009.8 L1356.5 1009.6 L1359.5 1009.3 L1362.5 1009.1 L1365.5 1008.8 L1368.5 1008.6 L1371.5 1008.3 L1374.5 1008.1 L1377.5 1007.8 L1380.5 1007.6 L1383.5 1007.4 L1386.5 1007.1 L1389.5 1006.9 L1392.5 1006.7 L1395.5 1006.4 L1398.5 1006.2 L1401.5 1006.0 L1404.5 1005.8 L1407.5 1005.6 L1410.5 1005.4 L1413.5 1005.1 L1416.5 1004.9 L1419.5 1004.7 L1422.5 1004.5 L1425.5 1004.3 L1428.5 1004.1 L1431.5 1003.9 L1434.5 1003.7 L1437.5 1003.5 L1440.5 1003.3 L1443.5 1003.1 L1446.5 1003.0 L1449.5 1002.8 L1452.5 1002.6 L1455.5 1002.4 L1458.5 1002.2 L1461.5 1002.0 L1464.5 1001.9 L1467.5 1001.7 L1470.5 1001.5 L1473.5 1001.4 L1476.5 1001.2 L1479.5 1001.0 L1482.5 1000.9 L1485.5 1000.7 L1488.5 1000.5 L1491.5 1000.4 L1494.5 1000.2 L1497.5 1000.1 L1500.5 999.9 L1503.5 999.8 L1506.5 999.6 L1509.5 999.5 L1512.5 999.3 L1515.5 999.2 L1518.5 999.0 L1521.5 998.9 L1524.5 998.7 L1527.5 998.6 L1530.5 998.5 L1533.5 998.3 L1536.5 998.2 L1539.5 998.1 L1542.5 997.9 L1545.5 997.8 L1548.5 997.7 L1551.5 997.5 L1554.5 997.4 L1557.5 997.3 L1560.5 997.2 L1563.5 997.0 L1566.5 996.9 L1569.5 996.8 L1572.5 996.7 L1575.5 996.6 L1578.5 996.5 L1581.5 996.3 L1584.5 996.2 L1587.5 996.1 L1590.5 996.0 L1593.5 995.9 L1596.5 995.8 L1599.5 995.7 L1602.5 995.6 L1605.5 995.5 L1608.5 995.4 L1611.5 995.3 L1614.5 995.1 L1617.5 995.0 L1620.5 994.9 L1623.5 994.8 L1626.5 994.7 L1629.5 994.6 L1632.5 994.5 L1635.5 994.5 L1638.5 994.4 L1641.5 994.3 L1644.5 994.2 L1647.5 994.1 L1650.5 994.0 L1653.5 993.9 L1656.5 993.8 L1659.5 993.7 L1662.5 993.6 L1665.5 993.5 L1668.5 993.4 L1671.5 993.3 L1674.5 993.3 L1677.5 993.2 L1680.5 993.1 L1683.5 993.0 L1686.5 992.9 L1689.5 992.8 L1692.5 992.7 L1695.5 992.7 L1698.5 992.6 L1701.5 992.5 L1704.5 992.4 L1707.5 992.3 L1710.5 992.2 L1713.5 992.2 L1716.5 992.1 L1719.5 992.0 L1722.5 991.9 L1725.5 991.8 L1728.5 991.8 L1731.5 991.7 L1734.5 991.6 L1737.5 991.5 L1740.5 991.4 L1743.5 991.4 L1746.5 991.3 L1749.5 991.2 L1752.5 991.1 L1755.5 991.0 L1758.5 991.0 L1761.5 990.9 L1764.5 990.8 L1767.5 990.7 L1770.5 990.6 L1773.5 990.6 L1776.5 990.5 L1779.5 990.4 L1782.5 990.3 L1785.5 990.2 L1788.5 990.1 L1791.5 990.1 L1794.5 990.0 L1797.5 989.9 L1800.5 989.8 L1803.5 989.7 L1806.5 989.7 L1809.5 989.6 L1812.5 989.5 L1815.5 989.4 L1818.5 989.3 L1821.5 989.2 L1824.5 989.2 L1827.5 989.1 L1830.5 989.0 L1833.5 988.9 L1836.5 988.8 L1839.5 988.7 L1842.5 988.6 L1845.5 988.5 L1848.5 988.5 L1851.5 988.4 L1854.5 988.3 L1857.5 988.2 L1860.5 988.1 L1863.5 988.0 L1866.5 987.9 L1869.5 987.8 L1872.5 987.7 L1875.5 987.6 L1878.5 987.5 L1881.5 987.4 L1884.5 987.3 L1887.5 987.2 L1890.5 987.1 L1893.5 987.0 L1896.5 986.9 L1899.5 986.8 L1902.5 986.7 L1905.5 986.6 L1908.5 986.5 L1911.5 986.4 L1914.5 986.3 L1917.5 986.2 L1920.5 986.1 L1923.5 986.0 L1926.0 985.9"/>
</g>
<g stroke="#000" stroke-width="4">
<line x1="361" y1="1163.9" x2="373.5" y2="1163.9"/>
<line x1="361" y1="1080.9" x2="385.5" y2="1080.9"/>
<line x1="361" y1="997.8" x2="373.5" y2="997.8"/>
<line x1="361" y1="914.7" x2="385.5" y2="914.7"/>
<line x1="361" y1="831.6" x2="373.5" y2="831.6"/>
<line x1="361" y1="748.6" x2="385.5" y2="748.6"/>
<line x1="361" y1="665.5" x2="373.5" y2="665.5"/>
<line x1="361" y1="582.4" x2="385.5" y2="582.4"/>
<line x1="361" y1="499.4" x2="373.5" y2="499.4"/>
<line x1="361" y1="416.3" x2="385.5" y2="416.3"/>
<line x1="361" y1="333.2" x2="373.5" y2="333.2"/>
<line x1="361" y1="250.1" x2="385.5" y2="250.1"/>
<line x1="361" y1="167.1" x2="373.5" y2="167.1"/>
<line x1="555.9" y1="1246" x2="555.9" y2="1234.0"/>
<line x1="751.2" y1="1246" x2="751.2" y2="1222.0"/>
<line x1="946.6" y1="1246" x2="946.6" y2="1234.0"/>
<line x1="1142.0" y1="1246" x2="1142.0" y2="1222.0"/>
<line x1="1337.4" y1="1246" x2="1337.4" y2="1234.0"/>
<line x1="1532.8" y1="1246" x2="1532.8" y2="1222.0"/>
<line x1="1728.1" y1="1246" x2="1728.1" y2="1234.0"/>
</g>
<g font-size="64">
<text x="335" y="1264" text-anchor="end">0</text>
<text x="278" y="1105.9" text-anchor="end" font-size="65">1x10</text>
<text x="337" y="1072.4" text-anchor="end" font-size="41">-17</text>
<text x="278" y="939.7" text-anchor="end" font-size="65">2x10</text>
<text x="337" y="906.2" text-anchor="end" font-size="41">-17</text>
<text x="278" y="773.6" text-anchor="end" font-size="65">3x10</text>
<text x="337" y="740.1" text-anchor="end" font-size="41">-17</text>
<text x="278" y="607.4" text-anchor="end" font-size="65">4x10</text>
<text x="337" y="573.9" text-anchor="end" font-size="41">-17</text>
<text x="278" y="441.3" text-anchor="end" font-size="65">5x10</text>
<text x="337" y="407.8" text-anchor="end" font-size="41">-17</text>
<text x="278" y="275.1" text-anchor="end" font-size="65">6x10</text>
<text x="337" y="241.6" text-anchor="end" font-size="41">-17</text>
<text x="278" y="109.0" text-anchor="end" font-size="65">7x10</text>
<text x="337" y="75.5" text-anchor="end" font-size="41">-17</text>
</g>
<g font-size="64" text-anchor="middle">
<text x="360.5" y="1321">0.0</text>
<text x="751.2" y="1321">0.2</text>
<text x="1142.0" y="1321">0.4</text>
<text x="1532.8" y="1321">0.6</text>
<text x="1923.5" y="1321">0.8</text>
</g>
<g shape-rendering="crispEdges">
<rect x="395" y="114" width="459" height="3" fill="#5e5e5e"/>
<rect x="395" y="114" width="3" height="399" fill="#a0a0a0"/>
<rect x="398" y="117" width="3" height="393" fill="#b5b5b5"/>
<rect x="851" y="114" width="3" height="399" fill="#5a5a5a"/>
<rect x="401" y="507" width="450" height="3" fill="#d5d5d5"/>
<rect x="395" y="510" width="459" height="3" fill="#7a7a7a"/>
</g>
<line x1="417.5" y1="161.8" x2="555.5" y2="161.8" stroke="#ff0000" stroke-width="6"/>
<text x="567" y="182.3" font-size="62">L</text>
<text x="600.8" y="205.5" font-size="42">g</text>
<text x="623" y="182.3" font-size="60.5" xml:space="preserve">= 20 nm</text>
<line x1="417.5" y1="260.8" x2="555.5" y2="260.8" stroke="#0000ff" stroke-width="6"/>
<text x="567" y="280.8" font-size="62">L</text>
<text x="600.8" y="304.0" font-size="42">g</text>
<text x="623" y="280.8" font-size="60.5" xml:space="preserve">= 15 nm</text>
<line x1="417.5" y1="359.8" x2="555.5" y2="359.8" stroke="#00ff00" stroke-width="6"/>
<text x="567" y="379.3" font-size="62">L</text>
<text x="600.8" y="402.5" font-size="42">g</text>
<text x="623" y="379.3" font-size="60.5" xml:space="preserve">= 10 nm</text>
<line x1="417.5" y1="458.8" x2="555.5" y2="458.8" stroke="#ff00ff" stroke-width="6"/>
<text x="567" y="477.5" font-size="62">L</text>
<text x="600.8" y="500.7" font-size="42">g</text>
<text x="623" y="477.5" font-size="60.5" xml:space="preserve">= 5 nm</text>
<text x="719.5" y="1430.3" font-size="65">Gate–Source Voltage, V</text>
<text x="1414.5" y="1452.5" font-size="42">gs</text>
<text x="1475.5" y="1430.3" font-size="65.5">(V)</text>
<g transform="translate(100,1138) rotate(-90)">
<text x="-0.5" y="0" font-size="65">Gate Capacitance, C</text>
<text x="602.2" y="25.5" font-size="41">gg</text>
<text x="663.7" y="0" font-size="65.5">(F/μm)</text>
</g>
</svg></body></html>
